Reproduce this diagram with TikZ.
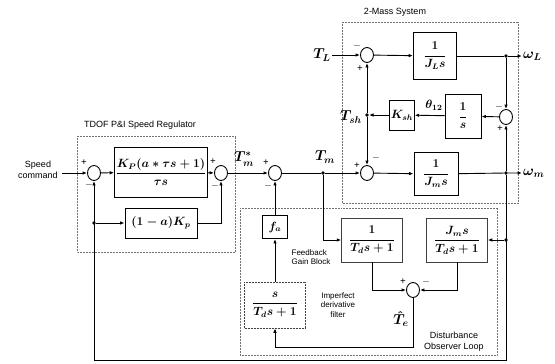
\documentclass[tikz,border=0pt]{standalone}
\usepackage{amsmath}
\usepackage{fontspec}
\setmainfont{Liberation Serif}
\setsansfont{Liberation Sans}
\usetikzlibrary{arrows.meta,positioning,shapes.geometric}

\begin{document}
\begin{tikzpicture}[
  x=1pt, y=-1pt,
  every node/.style={font=\boldmath},
  blk/.style={draw, line width=0.9pt, inner sep=1pt, align=center, font=\boldmath\large},
  lowblk/.style={draw, line width=0.5pt, black!75, text=black, inner sep=1pt, align=center, font=\boldmath\large},
  sumnode/.style={draw, line width=0.9pt, ellipse, minimum width=13pt, minimum height=15pt, inner sep=0pt},
  sig/.style={font=\boldmath\Large, inner sep=1pt},
  sgn/.style={font=\normalsize\bfseries, inner sep=0pt},
  note/.style={font=\sffamily\footnotesize, align=left, inner sep=0pt},
  title/.style={font=\sffamily\small, inner sep=0pt},
  frame/.style={densely dotted, black!55, line width=0.5pt},
  dot/.style={circle, fill, inner sep=1.3pt},
  edge/.style={-{Latex[length=4.5pt,width=3.5pt]}, line width=0.9pt}
]
\useasboundingbox (0,0) rectangle (555,364);

% frames
\draw[frame] (77,136) rectangle (235,252);
\node[title] (regtitle) at (140,125) {TDOF P\&I Speed Regulator};
\draw[frame] (342,22) rectangle (518,203);
\node[title] (masstitle) at (395,12) {2-Mass System};
\draw[frame] (240,208) rectangle (497,355);

% speed regulator
\node[font=\sffamily\small, align=center] (cmd) at (38,170) {Speed\\command};
\coordinate (cmdin) at (62,173);
\node[sumnode] (s1) at (94,173) {};
\node[blk, minimum width=86pt, minimum height=50pt] (blkA) at (161,172)
  {$\displaystyle\frac{K_P(a*\tau s+1)}{\tau s}$};
\node[sumnode] (s2) at (221,173) {};
\node[dot] (bdot) at (94,223) {};
\node[blk, minimum width=72pt, minimum height=30pt] (blkB) at (161,223)
  {$(1-a)K_p$};

% main path
\node[sig] (tmref) at (244,159) {$T^{*}_{m}$};
\node[sumnode] (s3) at (275,173) {};
\node[dot] (tmdot) at (323,173) {};
\node[sig] (tmlbl) at (325,157) {$T_m$};

% 2-mass system
\node[sig] (TL) at (322,55) {$T_L$};
\node[sumnode] (s5) at (367,55) {};
\node[blk, minimum width=43pt, minimum height=47pt] (blkJL) at (435,56)
  {$\displaystyle\frac{1}{J_L s}$};
\node[dot] (wLdot) at (506,56) {};
\node[sig, anchor=west] (wL) at (522,56) {$\omega_L$};
\node[sumnode] (s6) at (506,117) {};
\node[blk, minimum width=36pt, minimum height=44pt] (blkInt) at (463,116)
  {$\displaystyle\frac{1}{s}$};
\node[sig, font=\boldmath\large] (theta) at (434,105) {$\theta_{12}$};
\node[blk, minimum width=24pt, minimum height=30pt] (blkKsh) at (402,115) {$K_{sh}$};
\node[dot] (tshdot) at (367,115) {};
\node[sig] (tsh) at (351,117) {$T_{sh}$};
\node[sumnode] (s4) at (367,173) {};
\node[blk, minimum width=44pt, minimum height=43pt] (blkJm) at (436,174)
  {$\displaystyle\frac{1}{J_m s}$};
\node[dot] (wmdot) at (506,173) {};
\node[sig, anchor=west] (wm) at (522,173) {$\omega_m$};

% disturbance observer
\node[blk, minimum width=25pt, minimum height=23pt] (fa) at (275,227) {$f_a$};
\node[note] (fbnote) at (311,257) {Feedback\\Gain Block};
\node[lowblk, densely dotted, minimum width=61pt, minimum height=46pt] (filt) at (275,305)
  {$\displaystyle\frac{s}{T_d s+1}$};
\node[note, align=center] (filtnote) at (338,305) {Imperfect\\derivative\\filter};
\node[lowblk, minimum width=61pt, minimum height=44pt] (lp) at (372,240)
  {$\displaystyle\frac{1}{T_d s+1}$};
\node[lowblk, minimum width=61pt, minimum height=44pt] (hp) at (457,240)
  {$\displaystyle\frac{J_m s}{T_d s+1}$};
\node[dot] (hpdot) at (506,240) {};
\node[sumnode] (s7) at (413,290) {};
\node[sig, inner sep=0pt] (te) at (401,319) {$\hat{T}_e$};
\coordinate (teB) at (413,347);
\node[font=\sffamily\small, align=center] (dobtitle) at (454,342) {Disturbance\\Observer Loop};
\coordinate (fbL) at (94,360);

% signs
\node[sgn] at (84,163) {+};
\node[sgn] at (89,185) {$-$};
\node[sgn] at (213,162) {+};
\node[sgn] at (215,186) {$-$};
\node[sgn] at (266,163) {+};
\node[sgn] at (268,186) {$-$};
\node[sgn] at (357,166) {+};
\node[sgn] at (376,158) {$-$};
\node[sgn] at (357,46) {$-$};
\node[sgn] at (360,69) {+};
\node[sgn] at (499,107) {$-$};
\node[sgn] at (500,129) {+};
\node[sgn] at (403,282) {+};
\node[sgn] at (426,282) {$-$};

% connectors
\draw[edge] (cmdin) -- (s1);
\draw[edge] (s1) -- (blkA);
\draw[edge] (blkA) -- (s2);
\draw[edge] (bdot) -- (blkB);
\draw[edge] (blkB) -| (s2);
\draw[edge] (s2) -- (s3);
\draw[edge] (s3) -- (tmdot) -- (s4);
\draw[edge] (s4) -- (blkJm);
\draw[edge] (blkJm) -- (wmdot) -- (wm);
\draw[edge] (TL) -- (s5);
\draw[edge] (s5) -- (blkJL);
\draw[edge] (blkJL) -- (wLdot) -- (wL);
\draw[edge] (wLdot) -- (s6);
\draw[edge] (wmdot) -- (s6);
\draw[edge] (s6) -- (blkInt);
\draw[edge] (blkInt) -- (blkKsh);
\draw[edge] (blkKsh) -- (tshdot);
\draw[edge] (tshdot) -- (s5);
\draw[edge] (tshdot) -- (s4);
\draw[edge] (fa) -- (s3);
\draw[edge] (filt) -- (fa);
\draw[edge] (tmdot) |- (lp);
\draw[edge] (hpdot) -- (hp);
\draw[edge] (lp) |- (s7);
\draw[edge] (hp) |- (s7);
\draw[edge] (s7) -- (teB) -| (filt);
\draw[edge] (wmdot) |- (fbL) -- (s1);
\end{tikzpicture}
\end{document}
